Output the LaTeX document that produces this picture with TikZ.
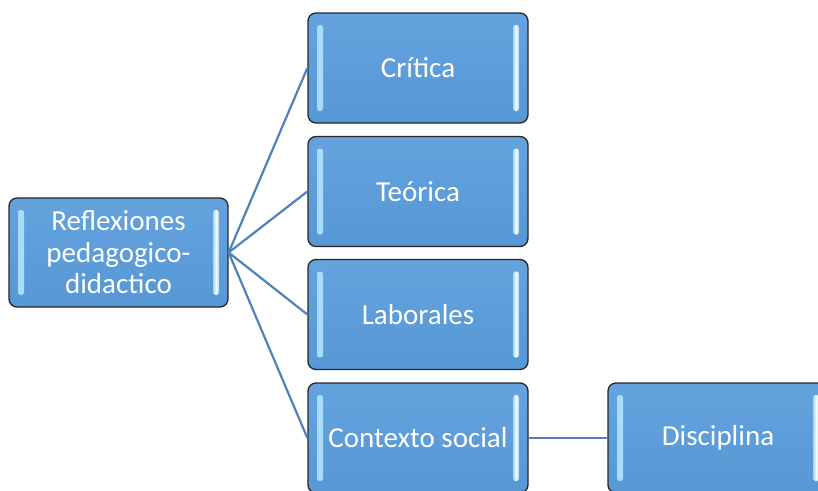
\documentclass[tikz,border=0pt]{standalone}
\usepackage{fontspec}
\setmainfont{Carlito}
\definecolor{boxtop}{RGB}{100,163,222}
\definecolor{boxbot}{RGB}{86,151,213}
\definecolor{barcol}{RGB}{160,215,250}
\definecolor{linecol}{RGB}{79,129,189}
\begin{document}
\begin{tikzpicture}[x=1pt,y=-1pt,
  bluebox/.style={rectangle, rounded corners=8pt, draw=black!85, line width=1.3pt,
    top color=boxtop, bottom color=boxbot, minimum width=220pt, minimum height=110pt,
    text=white, font=\fontsize{29}{31.5}\selectfont, align=center, inner sep=0pt,
    path picture={
      \shade[left color=barcol, right color=barcol, middle color=white!90!barcol, rounded corners=2.5pt]
        ([xshift=9pt,yshift=-12pt]path picture bounding box.north west) rectangle
        ([xshift=15pt,yshift=12pt]path picture bounding box.south west);
      \shade[left color=barcol, right color=barcol, middle color=white!90!barcol, rounded corners=2.5pt]
        ([xshift=-15pt,yshift=-12pt]path picture bounding box.north east) rectangle
        ([xshift=-9pt,yshift=12pt]path picture bounding box.south east);
    }},
  conn/.style={draw=linecol, line width=2.2pt}]
\useasboundingbox (0,0) rectangle (818,490);
\clip (0,0) rectangle (818,490);
\node[bluebox, minimum width=219pt, minimum height=109pt] (root) at (118.5,252.5) {Reflexiones\\pedagogico-\\didactico};
\node[bluebox] (critica) at (418,68) {Crítica};
\node[bluebox] (teorica) at (418,191.5) {Teórica};
\node[bluebox] (laborales) at (418,314.5) {Laborales};
\node[bluebox] (contexto) at (418,438) {Contexto social};
\node[bluebox] (disciplina) at (718,438) {Disciplina};
\draw[conn] (root.east) -- (critica.west);
\draw[conn] (root.east) -- (teorica.west);
\draw[conn] (root.east) -- (laborales.west);
\draw[conn] (root.east) -- (contexto.west);
\draw[conn] (contexto.east) -- (disciplina.west);
\end{tikzpicture}
\end{document}
